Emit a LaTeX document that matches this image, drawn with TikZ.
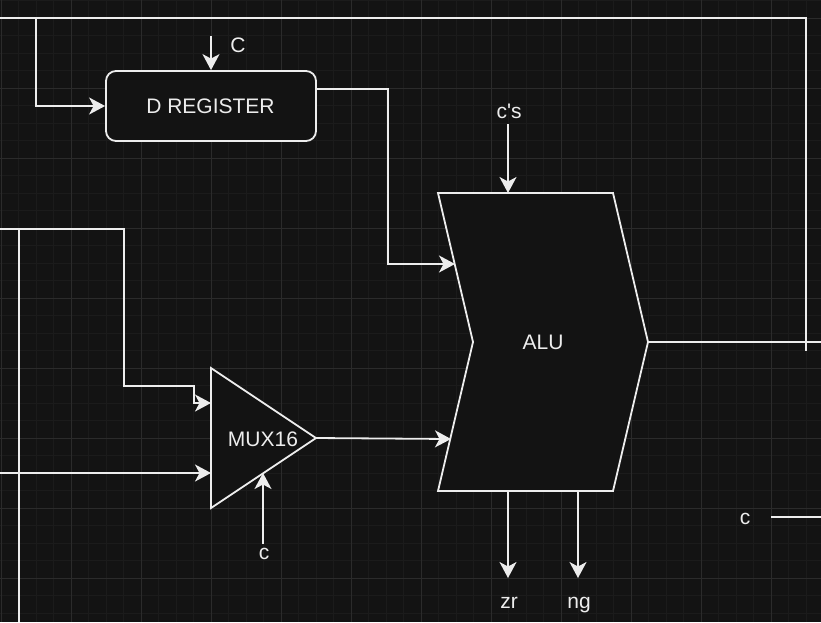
\documentclass[tikz,border=0pt]{standalone}
\usepackage{fontspec}
\newfontfamily\labelfont{Liberation Sans}
\usetikzlibrary{arrows.meta,calc}
\definecolor{bgdark}{HTML}{131313}
\definecolor{gridmajor}{HTML}{2B2B2B}
\definecolor{gridminor}{HTML}{1B1B1B}
\definecolor{wire}{HTML}{EDEDED}
\begin{document}
\begin{tikzpicture}[x=1pt,y=-1pt,
	wire/.style={draw=wire,line width=1.8pt},
	arrow/.style={wire,-{Stealth[length=16pt,width=17pt,inset=4.5pt]}},
	block/.style={wire,fill=bgdark,line join=miter},
	label/.style={text=wire,font=\labelfont\fontsize{21}{24}\selectfont,inner sep=0pt,anchor=base}]
	\useasboundingbox[fill=bgdark] (0,0) rectangle (821,622);
	\clip (0,0) rectangle (821,622);
	\foreach \i in {0,...,47} \draw[gridminor,line width=1pt] ({1+17.5*\i},0) -- ({1+17.5*\i},622);
	\foreach \i in {-1,...,35} \draw[gridminor,line width=1pt] (0,{18+17.5*\i}) -- (821,{18+17.5*\i});
	\foreach \i in {0,...,11} \draw[gridmajor,line width=1pt] ({1+70*\i},0) -- ({1+70*\i},622);
	\foreach \i in {0,...,8} \draw[gridmajor,line width=1pt] (0,{18+70*\i}) -- (821,{18+70*\i});

	\node [block,rounded corners=10pt,minimum width=210pt,minimum height=70pt,inner sep=0pt] (dreg) at (211,106) {};
	\node [label] (dregtext) at (210.5,113) {D REGISTER};

	\coordinate (alutl) at (438,193);
	\coordinate (alutr) at (613,193);
	\coordinate (aluout) at (648,342);
	\coordinate (alubr) at (613,491);
	\coordinate (alubl) at (438,491);
	\coordinate (alunotch) at (473,342);
	\draw [block] (alutl) -- (alutr) -- (aluout) -- (alubr) -- (alubl) -- (alunotch) -- cycle;
	\node [label] (alu) at (543,349.5) {ALU};

	\coordinate (muxtop) at (211,368);
	\coordinate (muxout) at (316,438);
	\coordinate (muxbot) at (211,508);
	\draw [block] (muxtop) -- (muxout) -- (muxbot) -- cycle;
	\node [label] (mux) at (263,446.5) {MUX16};

	\node [label] (cdreg) at (238,52.5) {C};
	\node [label] (calu) at (509,118) {c's};
	\node [label] (cmux) at (264,559) {c};
	\node [label] (zr) at (509,608) {zr};
	\node [label] (ng) at (579,608) {ng};
	\node [label] (cright) at (745,524) {c};

	\coordinate (topleft) at (0,18);
	\coordinate (topbranch) at (36,18);
	\coordinate (topright) at (806,18);
	\coordinate (feedend) at (806,351);
	\coordinate (midleft) at (0,229);
	\coordinate (midbranch) at (19,229);
	\coordinate (bottomleft) at (19,622);
	\coordinate (lowleft) at (0,473);
	\coordinate (muxa) at (211,403);
	\coordinate (muxb) at (211,473);
	\coordinate (muxc) at (263,473);
	\coordinate (aluina) at (455,264);
	\coordinate (aluinb) at (451,439);
	\coordinate (edgeright) at (821,342);

	\draw [wire] (topleft) -- (topright) -- (feedend);
	\draw [arrow] (topbranch) |- (dreg.west);
	\draw [arrow] (211,36) -- (dreg.north);
	\draw [arrow] (dreg.east |- 0,89) -- (388,89) -- (388,264) -- (aluina);
	\draw [arrow] (508,124) -- (508,193);
	\draw [wire] (aluout) -- (edgeright);
	\draw [arrow] (508,491) -- (508,578);
	\draw [arrow] (578,491) -- (578,578);
	\draw [wire] (771,517) -- (821,517);
	\draw [arrow] (midleft) -- (124,229) -- (124,386) -- (194,386) -- (194,403) -- (muxa);
	\draw [wire] (midbranch) -- (bottomleft);
	\draw [arrow] (lowleft) -- (muxb);
	\draw [arrow] (muxout) -- (aluinb);
	\draw [arrow] (263,544) -- (muxc);
\end{tikzpicture}
\end{document}
